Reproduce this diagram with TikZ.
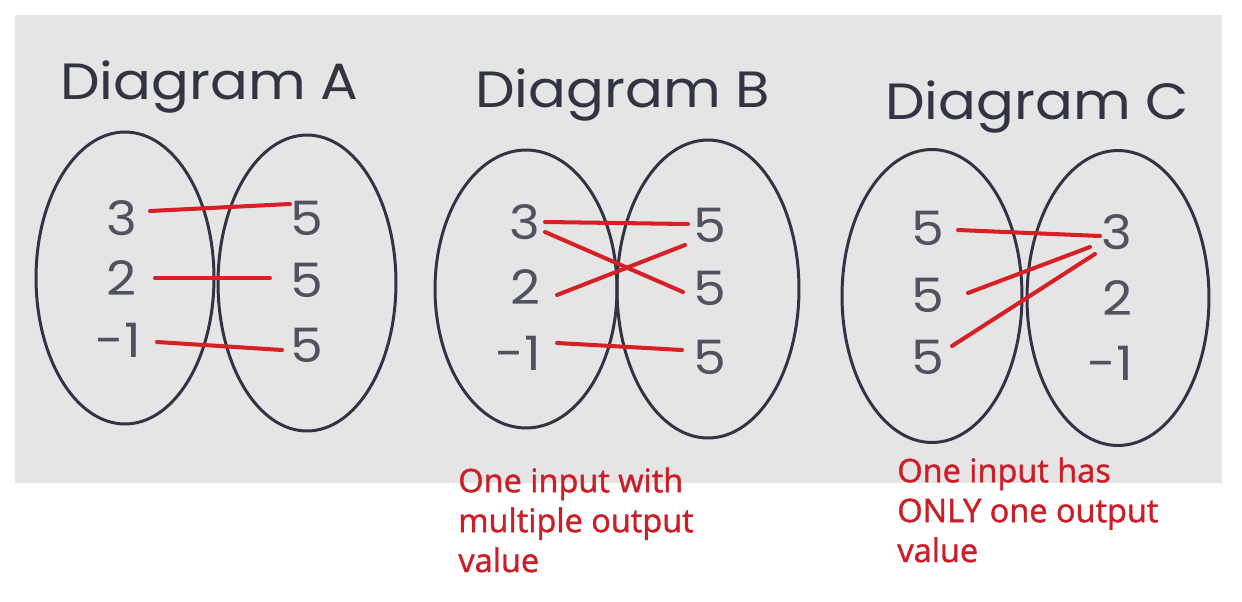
\documentclass[tikz,border=0pt]{standalone}
\usepackage{fontspec}
\setmainfont{Poppins}[FakeStretch=1.1]
\newfontfamily\notefont{Open Sans}[FakeBold=1.3]
\usetikzlibrary{shapes.geometric, positioning, calc}
\definecolor{ink}{RGB}{50,52,68}
\definecolor{paper}{RGB}{229,229,229}
\definecolor{redpen}{RGB}{214,32,38}
\definecolor{notered}{RGB}{204,30,40}

\begin{document}
\begin{tikzpicture}[x=0.02cm, y=-0.02cm,
          oval/.style={draw=ink, line width=1.7pt, ellipse, inner sep=0pt},
          num/.style={text=ink!85, font=\fontsize{27}{30}\selectfont, inner sep=1pt},
          heading/.style={text=ink, font=\fontsize{29}{32}\selectfont, anchor=base west, inner sep=0pt},
          note/.style={text=notered, font=\notefont\fontsize{18.5}{22.7}\selectfont, align=left,
                       anchor=base west, inner sep=0pt},
          link/.style={draw=redpen, line width=2.3pt, line cap=round}]
        \useasboundingbox (0,0) rectangle (1242,602);
        \fill[white] (0,0) rectangle (1242,602);
        \fill[paper] (15,15) rectangle (1222,483);
        % headings
        \node[heading] (hA) at (60,99) {Diagram A};
        \node[heading] (hB) at (475,107) {Diagram B};
        \node[heading] (hC) at (885,119) {Diagram C};
        % sets
        \node[oval, minimum width=3.56cm, minimum height=5.84cm] (inA) at (125,278) {};
        \node[oval, minimum width=3.56cm, minimum height=5.92cm] (outA) at (307,283) {};
        \node[oval, minimum width=3.64cm, minimum height=5.56cm] (inB) at (526,289) {};
        \node[oval, minimum width=3.64cm, minimum height=5.96cm] (outB) at (708,289) {};
        \node[oval, minimum width=3.6cm, minimum height=5.86cm] (inC) at (932,296) {};
        \node[oval, minimum width=3.64cm, minimum height=5.9cm] (outC) at (1118,298) {};
        % diagram A values
        \node[num] (a3) at (122,218) {3};
        \node[num] (a2) at (122,278) {2};
        \node[num] (a1) at (118,340) {-1};
        \node[num] (a5t) at (307,218) {5};
        \node[num] (a5m) at (307,280) {5};
        \node[num] (a5b) at (307,345) {5};
        % diagram B values
        \node[num] (b3) at (525,222) {3};
        \node[num] (b2) at (525,287) {2};
        \node[num] (b1) at (518,353) {-1};
        \node[num] (b5t) at (710,225) {5};
        \node[num] (b5m) at (710,288) {5};
        \node[num] (b5b) at (710,357) {5};
        % diagram C values
        \node[num] (c5t) at (928,228) {5};
        \node[num] (c5m) at (928,295) {5};
        \node[num] (c5b) at (928,357) {5};
        \node[num] (c3) at (1117,232) {3};
        \node[num] (c2) at (1117,298) {2};
        \node[num] (c1) at (1110,363) {-1};
        % red marks
        \draw[link] ($(a3)+(28,-7)$) -- ($(a5t)+(-17,-14)$);
        \draw[link] ($(a2)+(33,0)$) -- ($(a5m)+(-37,-2)$);
        \draw[link] ($(a1)+(39,2)$) -- ($(a5b)+(-25,5)$);
        \draw[link] ($(b3)+(20,0)$) -- ($(b5t)+(-22,-1)$);
        \draw[link] ($(b3)+(20,10)$) -- ($(b5m)+(-27,4)$);
        \draw[link] ($(b2)+(32,8)$) -- ($(b5t)+(-25,20)$);
        \draw[link] ($(b1)+(39,-10)$) -- ($(b5b)+(-28,-7)$);
        \draw[link] ($(c5t)+(30,2)$) -- ($(c3)+(-17,4)$);
        \draw[link] ($(c5m)+(40,-2)$) -- ($(c3)+(-27,15)$);
        \draw[link] ($(c5b)+(24,-11)$) -- ($(c3)+(-22,22)$);
        % notes (base = last line)
        \node[note] (nB) at (458,572) {One input with\\multiple output\\value};
        \node[note] (nC) at (897,562) {One input has\\ONLY one output\\value};
      \end{tikzpicture}
\end{document}
